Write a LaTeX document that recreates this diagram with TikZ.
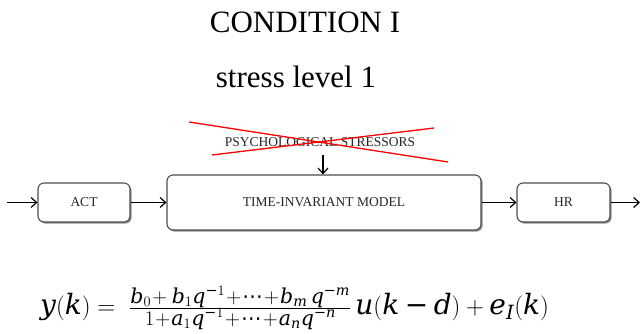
\documentclass[tikz,border=0pt]{standalone}
\usepackage{fontspec}
\setmainfont{Liberation Serif}
\newfontfamily\eqdv[NFSSFamily=eqdv]{DejaVu Serif}
\newfontfamily\eqdvs[NFSSFamily=eqdvs]{DejaVu Sans}
\DeclareSymbolFont{eqit}{TU}{eqdv}{m}{it}
\DeclareSymbolFont{equp}{TU}{eqdv}{m}{n}
\DeclareSymbolFont{eqsy}{TU}{eqdvs}{m}{n}
\Umathcode`a=7 \symeqit `a\relax
\Umathcode`b=7 \symeqit `b\relax
\Umathcode`d=7 \symeqit `d\relax
\Umathcode`e=7 \symeqit `e\relax
\Umathcode`k=7 \symeqit `k\relax
\Umathcode`m=7 \symeqit `m\relax
\Umathcode`n=7 \symeqit `n\relax
\Umathcode`q=7 \symeqit `q\relax
\Umathcode`u=7 \symeqit `u\relax
\Umathcode`y=7 \symeqit `y\relax
\Umathcode`I=7 \symeqit `I\relax
\Umathcode`0=0 \symequp `0\relax
\Umathcode`1=0 \symequp `1\relax
\Umathcode`+=2 \symequp `+\relax
\Umathcode`==3 \symequp `=\relax
\Umathcode`(=4 \symequp `(\relax
\Umathcode`)=5 \symequp `)\relax
\Umathcode`-=2 \symequp "2212\relax
\Umathchardef\eqcdots=0 \symeqsy "22EF\relax
\newcommand\fracpart[1]{\mbox{\fontsize{20.5}{24}\selectfont\medmuskip=1mu$#1$}}
\usetikzlibrary{arrows.meta,shadows}
\begin{document}
\begin{tikzpicture}[x=1pt,y=1pt,
  blk/.style={draw=black!70, line width=1.1pt, rounded corners=6pt, fill=white,
    drop shadow={shadow xshift=1.6pt, shadow yshift=-1.6pt, fill=black!55, opacity=0.8},
    text=black!85, font=\rmfamily\fontsize{13.5}{15}\selectfont, inner sep=0pt},
  arr/.style={line width=1.2pt, -{Straight Barb[length=5.5pt,width=10pt,line width=1.2pt]}},
  cross/.style={red, line width=1.3pt},
  ttl/.style={font=\rmfamily\fontsize{31}{36}\selectfont, anchor=base}]
\useasboundingbox (0,0) rectangle (640,334);
\node[ttl] (cond) at (305,301) {CONDITION I};
\node[ttl] (lvl) at (296,246) {stress level 1};
\node[blk, minimum width=92pt, minimum height=39pt] (act) at (84,131.5) {ACT};
\node[blk, minimum width=314pt, minimum height=55pt] (main) at (324,131.5) {TIME-INVARIANT MODEL};
\node[blk, minimum width=93pt, minimum height=39pt] (hr) at (563.5,131.5) {HR};
\coordinate (in) at (7,131.5);
\coordinate (out) at (640,131.5);
\node[text=black!85, font=\rmfamily\fontsize{13.5}{15}\selectfont, inner sep=0pt] (stress) at (320,192) {PSYCHOLOGICAL STRESSORS};
\coordinate (sa) at (323,179);
\draw[arr] (in) -- (act);
\draw[arr] (act) -- (main);
\draw[arr] (main) -- (hr);
\draw[arr] (hr) -- (out);
\draw[arr] (sa) -- (sa |- main.north);
\coordinate (r1a) at (189,212);
\coordinate (r1b) at (448,172);
\coordinate (r2a) at (212,179);
\coordinate (r2b) at (434,206);
\draw[cross] (r1a) -- (r1b);
\draw[cross] (r2a) -- (r2b);
\node[anchor=west, inner sep=0pt, font=\fontsize{28}{32}\selectfont] (eq) at (40,26)
  {$y(k) =\; \frac{\fracpart{b_0 +\, b_1 q^{-1} + \mathinner{\eqcdots} + b_m\, q^{-m}}}{\fracpart{1 + a_1 q^{-1} + \mathinner{\eqcdots} + a_n q^{-n}}}\, u(k-d) + e_I(k)$};
\end{tikzpicture}
\end{document}
